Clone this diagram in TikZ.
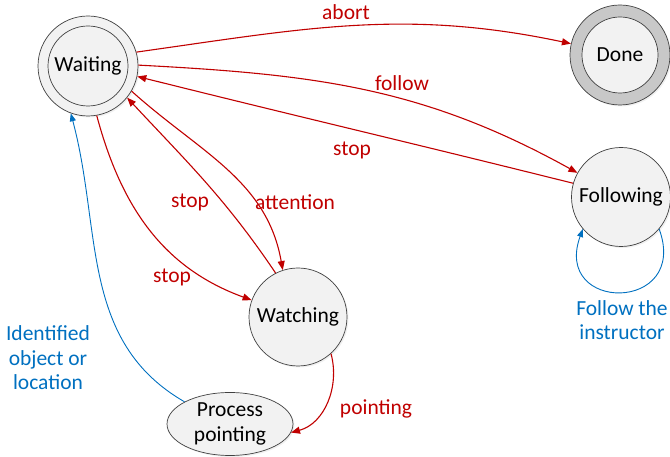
\documentclass[tikz,border=0pt]{standalone}
\usepackage{fontspec}
\setmainfont{Carlito}
\usetikzlibrary{arrows.meta,shapes.geometric,shadows}
\definecolor{edgered}{HTML}{C00000}
\definecolor{noteblue}{HTML}{0070C0}
\definecolor{statefill}{HTML}{F2F2F2}
\definecolor{ringgray}{HTML}{C8C8C8}
\definecolor{rimline}{HTML}{404040}

\begin{document}
\begin{tikzpicture}[x=1pt,y=1pt,
  txt/.style={font=\fontsize{21.5}{24.5}\selectfont},
  state/.style={circle, draw=rimline, line width=0.7pt, fill=statefill,
    minimum size=#1, inner sep=0pt, txt,
    drop shadow={opacity=0.12, shadow xshift=1.5pt, shadow yshift=-1.5pt}},
  trans/.style={draw=edgered, line width=1.1pt, -{Triangle[length=9pt,width=7pt]}},
  note/.style={draw=noteblue, line width=0.9pt, -{Triangle[length=8pt,width=6pt]}},
  lbl/.style={txt, text=edgered, inner sep=0pt},
  nlbl/.style={txt, text=noteblue, align=center, inner sep=0pt}
]
\useasboundingbox (0,0) rectangle (670,457);

% states
\node[state=100pt] (W) at (88,391) {};
\draw[rimline, line width=0.7pt] (W.center) circle[radius=40];
\node[txt] (Wt) at (W.center) {Waiting};

\node[state=100pt, fill=ringgray] (D) at (620,402) {};
\draw[rimline, line width=0.7pt, fill=statefill] (D.center) circle[radius=38];
\node[txt] (Dt) at (D.center) {Done};

\node[state=99pt] (F) at (621,260) {Following};
\node[state=98pt] (A) at (298,140) {Watching};
\node[ellipse, draw=rimline, line width=0.7pt, fill=statefill, minimum width=126pt,
  minimum height=63pt, inner sep=0pt, txt, align=center,
  drop shadow={opacity=0.12, shadow xshift=1.5pt, shadow yshift=-1.5pt}]
  (P) at (230,33) {Process\\pointing};

% transitions
\draw[trans] (W.16) to[out=8, in=168] (D.167);
\draw[trans] (W.1) to[out=-3, in=151] (F.151);
\draw[trans] (F.164) to[out=166, in=-14] (W.-12);
\draw[trans] (W.-30) to[out=-42, in=100] (A.108);
\draw[trans] (A.117) to[out=124, in=-47] (W.-39);
\draw[trans] (W.-80) to[out=-75, in=160] (A.160);
\draw[trans] (A.-48) to[out=-75, in=15] (P.-8);

% annotations
\draw[note] (P.154) to[out=150, in=-75] (W.-110);
\draw[note] (F.-40) to[out=-70, in=-110, looseness=3] (F.-140);

% labels
\node[lbl] (l1) at (346,445) {abort};
\node[lbl] (l2) at (402,374) {follow};
\node[lbl] (l3) at (352,307) {stop};
\node[lbl] (l4) at (190,255) {stop};
\node[lbl] (l5) at (295,255) {attention};
\node[lbl] (l6) at (172,180) {stop};
\node[lbl] (l7) at (376,48) {pointing};
\node[nlbl] (n1) at (48,99) {Identified\\object or\\location};
\node[nlbl] (n2) at (622,137) {Follow the\\instructor};
\end{tikzpicture}
\end{document}
